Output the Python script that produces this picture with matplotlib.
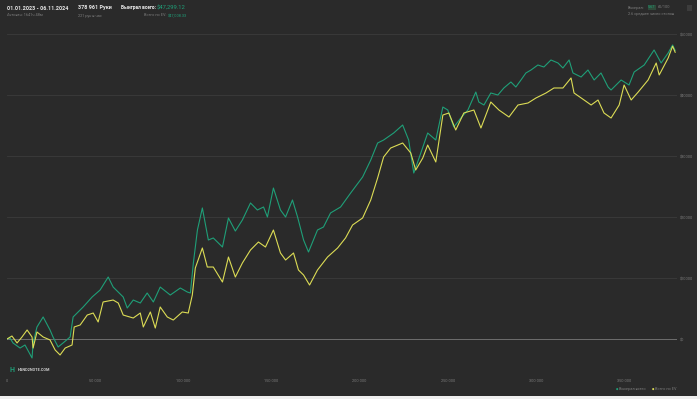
import matplotlib

matplotlib.use("Agg")
import matplotlib.pyplot as plt
from matplotlib.patches import Rectangle

# cumulative winnings (hands, dollars)
won_hands = [0, 1700, 3400, 7400, 10200, 14200, 14800, 17000, 20500, 24400, 26100, 29000,
             31800, 35800, 37500, 43200, 48300, 52800, 57400, 60200, 65900, 68200, 71600,
             75600, 79500, 83000, 86900, 92600, 98300, 102300, 104000, 105700, 108000,
             110800, 114200, 117000, 122200, 125600, 129500, 133500, 138100, 142000,
             145500, 147700, 151100, 155100, 158000, 161900, 164800, 168200, 171000,
             176100, 179500, 183500, 189200, 194900, 201700, 206300, 210200, 213600,
             219300, 224400, 227800, 230700, 234700, 238600, 243200, 247200, 250000,
             253400, 257400, 261400, 265900, 267600, 270500, 274400, 278400, 281800,
             285800, 288600, 291500, 294300, 297200, 301100, 304500, 308500, 312500,
             315300, 318800, 321000, 325600, 329500, 333000, 336900, 340900, 342600,
             348300, 352800, 355700, 361400, 367000, 371000, 375000, 377500, 378961]
won_total = [0, 160, -650, -1480, -980, -3110, -650, 1970, 3610, 1480, 330, -1310,
             -650, 330, 3610, 5250, 6890, 8030, 10160, 8520, 6890, 5080, 6390,
             5900, 7540, 6070, 8520, 7210, 8360, 7700, 7540, 12460, 17870,
             21480, 16230, 16560, 15080, 19840, 17700, 19510, 22300, 21150,
             21640, 20000, 24750, 21150, 20000, 22790, 20000, 16230, 14260,
             17870, 18360, 20660, 21640, 23930, 26560, 29340, 32130, 32620,
             33770, 35080, 32620, 27210, 30490, 33770, 32620, 38030, 37540,
             34750, 36230, 37540, 40490, 38850, 38360, 40330, 40000, 41150,
             42130, 41310, 42460, 43610, 44100, 44920, 44590, 45740, 45250,
             44430, 45740, 43610, 42950, 44100, 42460, 43610, 41310, 40820,
             42460, 41640, 43770, 44920, 47380, 45250, 46890, 48200, 47299.12]

ev_hands = [0, 2800, 5700, 8500, 11400, 14200, 14800, 17000, 20500, 24400, 27300, 30100,
            33000, 36900, 38100, 41500, 45500, 48900, 51700, 54500, 60200, 63100, 65900,
            71600, 75600, 77300, 81300, 84100, 86900, 90900, 94300, 99400, 102800,
            105100, 106800, 110800, 113600, 117000, 122200, 125600, 129500, 133500,
            138100, 142600, 146600, 151100, 155100, 158000, 162500, 165300, 168200,
            171600, 176100, 181800, 187500, 192000, 196000, 201700, 206300, 210200,
            213600, 217600, 224400, 229000, 231800, 235800, 238600, 243200, 247200,
            250600, 254500, 259100, 264800, 268800, 274400, 279000, 284700, 289800,
            295500, 300000, 305700, 310200, 315300, 319900, 321600, 327300, 331300,
            335200, 338600, 342600, 347200, 350000, 354000, 358000, 363600, 368200,
            369900, 375000, 377500, 378961]
ev_total = [0, 490, -650, 330, 1480, 330, -1480, 1150, 330, -160, -1800, -2620,
            -1480, -980, 1970, 2300, 3930, 4260, 2790, 6070, 6390, 5900, 3930,
            3440, 4260, 1970, 4430, 1800, 5250, 3610, 3110, 4430, 4260,
            7210, 11640, 14920, 11800, 11800, 9340, 13440, 10160, 12460,
            14590, 15900, 15080, 17870, 14100, 12950, 14100, 11310, 10490,
            8850, 11310, 13440, 14920, 16560, 18690, 19840, 22790, 26390,
            29840, 31310, 32130, 30490, 27700, 29670, 31800, 29020, 36720,
            37050, 34260, 37050, 37540, 34590, 38850, 37540, 36390, 38360,
            38690, 39510, 40330, 41150, 41150, 42790, 40330, 39180, 38360,
            39180, 37050, 36230, 38360, 41640, 39180, 40490, 42460, 45250,
            43280, 46070, 48000, 47008.33]

x_ticks = [0, 50000, 100000, 150000, 200000, 250000, 300000, 350000]
x_labels = ["0", "50 000", "100 000", "150 000", "200 000", "250 000", "300 000", "350 000"]
y_ticks = [0, 10000, 20000, 30000, 40000, 50000]
y_labels = ["$0", "$10000", "$20000", "$30000", "$40000", "$50000"]

BG = "#2a2a2a"
GREEN = "#1f9f78"
YELLOW = "#dcdc55"
GREY = "#7c7c7c"
W, H = 700, 399


def px(x, y):
    return x / W, 1 - y / H


plt.rcParams["font.family"] = ["Roboto", "DejaVu Sans"]

fig = plt.figure(figsize=(7, 3.99), dpi=100, facecolor="#efefef")
fig.patches.append(Rectangle((0, 3 / H), 697 / W, 396 / H, transform=fig.transFigure,
                             facecolor=BG, edgecolor="none", zorder=-5))

ax = fig.add_axes([7 / W, 1 - 365 / H, 670 / W, 335 / H], zorder=2)
ax.set_facecolor("none")
ax.set_xlim(0, 380000)
ax.set_ylim(-4262, 50656)
for s in ax.spines.values():
    s.set_visible(False)

for v in y_ticks[1:]:
    ax.axhline(v, color="#3b3b3b", lw=0.6, zorder=1)
ax.axhline(0, color="#6e6e6e", lw=0.7, zorder=1)

ax.plot(ev_hands, ev_total, color=YELLOW, lw=0.8, zorder=3)
ax.plot(won_hands, won_total, color=GREEN, lw=0.8, zorder=2)

ax.yaxis.tick_right()
ax.set_yticks(y_ticks, y_labels)
ax.set_xticks(x_ticks, x_labels)
ax.tick_params(axis="y", length=0, pad=2, labelsize=2.8, labelcolor=GREY)
ax.tick_params(axis="x", length=0, pad=10, labelsize=2.8, labelcolor=GREY)

# header
fig.text(*px(7, 8), "01.01.2023 - 06.11.2024", color="#e8e8e8", fontsize=3.9,
         fontweight="bold", va="center")
fig.text(*px(7, 15.5), "Активен: 1641ч 48м", color=GREY, fontsize=2.8, va="center")
fig.text(*px(78, 8), "378 961 Руки", color="#e8e8e8", fontsize=3.9,
         fontweight="bold", va="center")
fig.text(*px(78, 15.5), "221 рук в час", color=GREY, fontsize=2.8, va="center")
fig.text(*px(121, 8), "Выиграл всего:", color="#e8e8e8", fontsize=3.5,
         fontweight="bold", va="center")
fig.text(*px(157, 8), "$47,299.12", color=GREEN, fontsize=4.2, va="center")
fig.text(*px(167, 15.5), "Всего по EV:", color=GREY, fontsize=2.8, va="center", ha="right")
fig.text(*px(168, 15.5), "$47,008.33", color=GREEN, fontsize=2.8, va="center")

fig.text(*px(628, 7.5), "Выиграл:", color=GREY, fontsize=2.8, va="center")
fig.text(*px(648, 7.5), "5.67", color=GREEN, fontsize=2.8, va="center",
         bbox=dict(boxstyle="square,pad=0.05", facecolor="#2f4a3a", edgecolor="none"))
fig.text(*px(658, 7.5), "бб/100", color=GREY, fontsize=2.8, va="center")
fig.text(*px(628, 14), "2.6 среднее число столов", color=GREY, fontsize=2.8, va="center")
fig.patches.append(Rectangle(px(687, 11), 5 / W, 6 / H, transform=fig.transFigure,
                             facecolor="#3c3c3c", edgecolor="none"))

# logo
fig.text(*px(10, 370), "H", color=GREEN, fontsize=5, fontweight="bold", va="center")
fig.text(*px(18, 370), "HAND2NOTE.COM", color="#d0d0d0", fontsize=2.8,
         fontweight="bold", va="center")

# legend
fig.text(*px(616, 389), "●", color=GREEN, fontsize=2, va="center")
fig.text(*px(619, 389), "Выиграл всего", color=GREY, fontsize=2.8, va="center")
fig.text(*px(652, 389), "●", color=YELLOW, fontsize=2, va="center")
fig.text(*px(655, 389), "Всего по EV", color=GREY, fontsize=2.8, va="center")

fig.savefig("out.png", dpi=100, facecolor=fig.get_facecolor())
